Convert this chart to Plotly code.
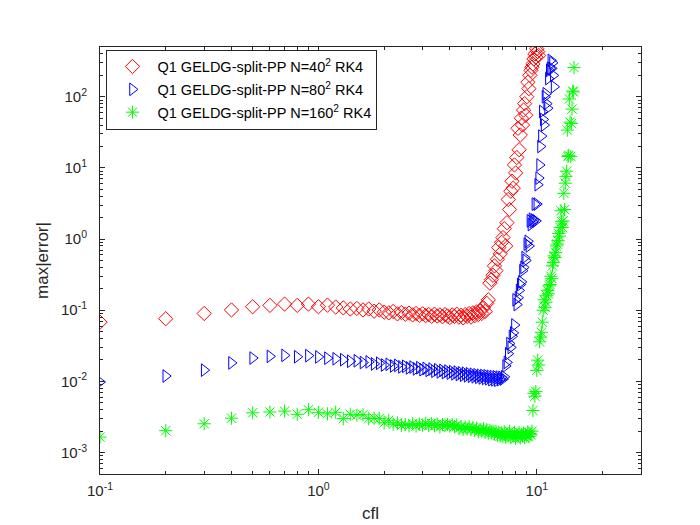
import numpy as np
import plotly.graph_objs as go

# cfl grid used by the runs
cfl = [
    0.1, 0.2, 0.3, 0.4, 0.5, 0.6, 0.7, 0.8, 0.9, 1.0,
    1.1, 1.2, 1.3, 1.4, 1.5, 1.6, 1.7, 1.8, 1.9, 2.0,
    2.1, 2.2, 2.3, 2.4, 2.5, 2.6, 2.7, 2.8, 2.9, 3.0,
    3.1, 3.2, 3.3, 3.4, 3.5, 3.6, 3.7, 3.8, 3.9, 4.0,
    4.1, 4.2, 4.3, 4.4, 4.5, 4.6, 4.7, 4.8, 4.9, 5.0,
    5.1, 5.2, 5.3, 5.4, 5.5, 5.6, 5.7, 5.8, 5.9, 6.0,
    6.1, 6.2, 6.3, 6.4, 6.5, 6.6, 6.7, 6.8, 6.9, 7.0,
    7.1, 7.2, 7.3, 7.4, 7.5, 7.6, 7.7, 7.8, 7.9, 8.0,
    8.1, 8.2, 8.3, 8.4, 8.5, 8.6, 8.7, 8.8, 8.9, 9.0,
    9.1, 9.2, 9.3, 9.4, 9.5, 9.6, 9.7, 9.8, 9.9, 10.0,
    10.1, 10.2, 10.3, 10.4, 10.5, 10.6, 10.7, 10.8, 10.9, 11.0,
    11.1, 11.2, 11.3, 11.4, 11.5, 11.6, 11.7, 11.8, 11.9, 12.0,
    12.1, 12.2, 12.3, 12.4, 12.5, 12.6, 12.7, 12.8, 12.9, 13.0,
    13.1, 13.2, 13.3, 13.4, 13.5, 13.6, 13.7, 13.8, 13.9, 14.0,
    14.1, 14.2, 14.3, 14.4, 14.5, 14.6, 14.7, 14.8,
]

# max|error| for N=40^2
err_40 = [
    0.068, 0.076, 0.090, 0.101, 0.112, 0.117, 0.122, 0.117, 0.122, 0.112,
    0.118, 0.111, 0.108, 0.104, 0.106, 0.101, 0.104, 0.097, 0.101, 0.094,
    0.092, 0.096, 0.089, 0.093, 0.088, 0.091, 0.086, 0.090, 0.085, 0.089,
    0.084, 0.087, 0.082, 0.088, 0.083, 0.086, 0.081, 0.087, 0.083, 0.079,
    0.086, 0.082, 0.088, 0.080, 0.085, 0.078, 0.087, 0.082, 0.090, 0.080,
    0.092, 0.084, 0.095, 0.087, 0.100, 0.090, 0.108, 0.096, 0.125, 0.14,
    0.24, 0.27, 0.31, 0.42, 0.36, 0.52, 0.76, 0.62, 0.90, 1.05,
    1.4, 0.8, 1.7, 3.6, 2.6, 4.7, 6.5, 5.2, 11, 8.5,
    14, 36, 18, 29, 50, 40, 65, 80, 55, 100,
    160, 130, 200, 235, 260, 290, 340, 400, 360, 473,
    430, 380,
]

# max|error| for N=80^2
err_80 = [
    0.0098, 0.0119, 0.0144, 0.0182, 0.0213, 0.0225, 0.0232, 0.0222, 0.0230, 0.0221,
    0.0212, 0.0208, 0.0202, 0.0192, 0.0195, 0.0184, 0.0188, 0.0176, 0.0180, 0.0170,
    0.0174, 0.0165, 0.0168, 0.0160, 0.0163, 0.0155, 0.0159, 0.0150, 0.0156, 0.0146,
    0.0152, 0.0143, 0.0149, 0.0139, 0.0146, 0.0136, 0.0143, 0.0133, 0.0140, 0.0131,
    0.0137, 0.0128, 0.0135, 0.0125, 0.0132, 0.0122, 0.0130, 0.0120, 0.0128, 0.0118,
    0.0126, 0.0116, 0.0124, 0.0114, 0.0122, 0.0112, 0.0121, 0.0110, 0.0120, 0.0109,
    0.0118, 0.0106, 0.0117, 0.0105, 0.0116, 0.0104, 0.0115, 0.0106, 0.0114, 0.0108,
    0.0116, 0.0165, 0.0185, 0.0245, 0.034, 0.030, 0.043, 0.048, 0.062, 0.14,
    0.12, 0.15, 0.19, 0.23, 0.25, 0.36, 0.40, 0.55, 0.50, 0.85,
    0.93, 0.80, 1.8, 1.6, 1.9, 1.75, 1.85, 3.1, 1.8, 3.1,
    5.8, 7.2, 11, 20, 28, 62, 48, 40, 100, 110,
    80, 69, 180, 235, 250, 325, 250, 300, 200, 138,
]

# max|error| for N=160^2
err_160 = [
    0.00165, 0.00203, 0.00254, 0.00304, 0.00362, 0.00372, 0.00382, 0.00345, 0.00400, 0.00368,
    0.00350, 0.00368, 0.00300, 0.00345, 0.00335, 0.00340, 0.00300, 0.00305, 0.00302, 0.00262,
    0.00285, 0.00250, 0.00262, 0.00240, 0.00248, 0.00238, 0.00255, 0.00236, 0.00250, 0.00242,
    0.00258, 0.00240, 0.00255, 0.00238, 0.00252, 0.00230, 0.00248, 0.00242, 0.00250, 0.00236,
    0.00246, 0.00232, 0.00244, 0.00218, 0.00230, 0.00212, 0.00228, 0.00215, 0.00232, 0.00210,
    0.00224, 0.00205, 0.00220, 0.00196, 0.00212, 0.00200, 0.00215, 0.00192, 0.00208, 0.00188,
    0.00205, 0.00190, 0.00200, 0.00182, 0.00198, 0.00175, 0.00192, 0.00170, 0.00188, 0.00168,
    0.00195, 0.00165, 0.00185, 0.00172, 0.00198, 0.00162, 0.00182, 0.00170, 0.00190, 0.00158,
    0.00178, 0.00168, 0.00192, 0.00160, 0.00180, 0.00170, 0.00188, 0.00162, 0.00182, 0.00172,
    0.00195, 0.00168, 0.00185, 0.00178, 0.00200, 0.0039, 0.0068, 0.0062, 0.0072, 0.0143,
    0.0199, 0.0170, 0.036, 0.042, 0.049, 0.068, 0.10, 0.14, 0.11, 0.13,
    0.16, 0.19, 0.17, 0.22, 0.23, 0.30, 0.28, 0.42, 0.47, 0.58,
    0.55, 0.65, 0.80, 0.85, 0.95, 1.20, 1.10, 1.45, 2.5, 1.75,
    1.45, 1.8, 4.4, 2.6, 6.1, 7.6, 9.0, 34, 14.5, 15,
    93, 44, 14.5, 42, 67, 120, 117, 257,
]

names = [
    'Q1 GELDG-split-PP N=40<sup>2</sup> RK4',
    'Q1 GELDG-split-PP N=80<sup>2</sup> RK4',
    'Q1 GELDG-split-PP N=160<sup>2</sup> RK4',
]

x_ticks = [0.1, 1, 10]
x_labels = ['10<sup>-1</sup>', '10<sup>0</sup>', '10<sup>1</sup>']
y_ticks = [1e-3, 1e-2, 1e-1, 1, 10, 100]
y_labels = ['10<sup>-3</sup>', '10<sup>-2</sup>', '10<sup>-1</sup>',
            '10<sup>0</sup>', '10<sup>1</sup>', '10<sup>2</sup>']

fig = go.Figure()

styles = [
    ('diamond-open', 11, '#ff0000', err_40),
    ('triangle-right-open', 11, '#0000ff', err_80),
    ('asterisk-open', 11, '#00ff00', err_160),
]
for i, (sym, size, col, err) in enumerate(styles):
    fig.add_trace(go.Scatter(
        x=cfl[:len(err)], y=err, mode='markers', name=names[i],
        legendgroup=str(i),
        marker=dict(symbol=sym, size=size, color=col, line=dict(color=col, width=1)),
    ))

# minor tick positions 2..9 in each decade
minor_pos = [m * 10.0 ** e for e in range(-4, 3) for m in range(2, 10)]

axis_common = dict(
    type='log', showgrid=False, zeroline=False,
    showline=True, linecolor='#262626', linewidth=1, mirror='allticks',
    ticks='inside', ticklen=5, tickcolor='#262626', tickmode='array',
    tickfont=dict(family='Liberation Sans', size=15, color='#262626'),
    minor=dict(ticks='inside', ticklen=3, tickcolor='#262626', showgrid=False,
               tickmode='array', tickvals=minor_pos),
)
title_font = dict(family='Liberation Sans', size=17, color='#262626')

fig.update_xaxes(axis_common, range=[-1, np.log10(30)],
                 tickvals=x_ticks, ticktext=x_labels, ticklabelstandoff=3,
                 title=dict(text='cfl', font=title_font, standoff=9))
fig.update_yaxes(axis_common, range=[np.log10(5e-4), np.log10(500)],
                 tickvals=y_ticks, ticktext=y_labels, ticklabelstandoff=9,
                 title=dict(text='max|error|', font=title_font, standoff=8))

fig.update_layout(
    width=700, height=525,
    margin=dict(l=92, r=67, t=39, b=59),
    paper_bgcolor='white', plot_bgcolor='white',
    showlegend=True,
    legend=dict(
        x=0.012, y=0.994, xanchor='left', yanchor='top',
        bgcolor='white', bordercolor='#262626', borderwidth=1,
        font=dict(family='Liberation Sans', size=14.5, color='#000000'),
        itemwidth=40, traceorder='grouped', tracegroupgap=1,
    ),
)

fig.write_html("out.html")
